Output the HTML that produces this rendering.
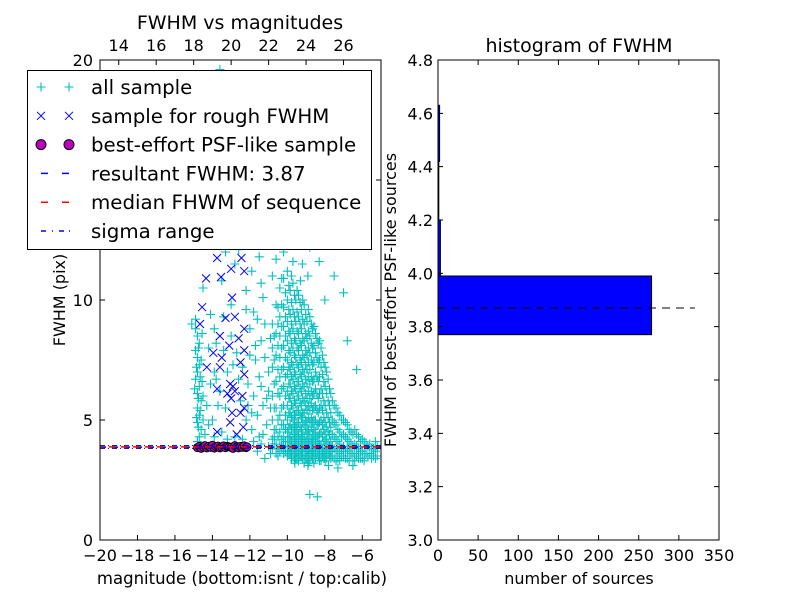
<!DOCTYPE html>
<html><head><meta charset="utf-8"><style>
body{margin:0;background:#fff}
svg{display:block;font-family:"DejaVu Sans","Liberation Sans",sans-serif}
</style></head><body>
<svg id="fig" width="800" height="600" xmlns="http://www.w3.org/2000/svg">
<rect width="800" height="600" fill="#fff"/>
<g id="left"></g>
<g id="right"></g>
</svg>
<script>
// ---- data ----
const cloudMag = [-10.8,-10.6,-10.4,-10.2,-10.0,-9.85,-9.7,-9.55,-9.4,-9.25,-9.1,-8.95,-8.8,-8.65,-8.5,-8.35,-8.2,-8.05,-7.9,-7.75,-7.6,-7.4,-7.2,-7.0,-6.8,-6.6,-6.4,-6.2,-6.0,-5.8,-5.6,-5.4,-5.2];
const cloudFwhm = [
 [9.0,8.0,7.2,6.0,5.0,4.2,3.8],
 [9.8,8.6,7.7,6.6,5.5,4.6,4.0,3.6],
 [10.5,9.3,8.5,7.6,6.8,6.0,5.2,4.5,4.0,3.7],
 [10.9,9.7,8.9,8.1,7.2,6.4,5.6,4.8,4.3,3.9,3.6],
 [11.2,10.0,9.1,8.3,7.5,6.9,6.2,5.6,5.0,4.5,4.1,3.7,3.5],
 [10.4,9.4,8.6,7.8,7.1,6.5,5.9,5.3,4.8,4.3,3.9,3.6],
 [10.7,9.6,8.8,8.0,7.3,6.7,6.1,5.5,5.0,4.6,4.2,3.8,3.5],
 [10.0,9.1,8.3,7.6,6.9,6.3,5.7,5.2,4.7,4.3,3.9,3.6,3.4],
 [10.2,9.3,8.6,7.9,7.2,6.6,6.0,5.4,4.9,4.4,4.0,3.6,3.3],
 [9.6,8.8,8.1,7.4,6.8,6.2,5.6,5.1,4.6,4.2,3.8,3.5],
 [9.8,9.0,8.3,7.6,7.0,6.4,5.8,5.3,4.8,4.3,3.9,3.5,3.2],
 [9.1,8.4,7.7,7.1,6.5,5.9,5.4,4.9,4.5,4.1,3.7,3.4],
 [9.3,8.5,7.8,7.1,6.5,5.9,5.4,4.9,4.4,4.0,3.6,3.3],
 [8.8,8.0,7.3,6.6,6.0,5.4,4.9,4.4,4.0,3.7,3.4],
 [8.6,7.8,7.0,6.3,5.6,5.0,4.5,4.1,3.7,3.4],
 [8.2,7.4,6.6,5.9,5.3,4.8,4.3,3.9,3.5],
 [8.0,7.2,6.3,5.6,5.0,4.5,4.0,3.6,3.3],
 [7.4,6.6,5.8,5.1,4.6,4.1,3.7,3.4],
 [7.0,6.1,5.3,4.7,4.2,3.8,3.4],
 [6.3,5.6,4.9,4.4,3.9,3.5],
 [5.8,5.0,4.4,3.9,3.5],
 [5.5,4.8,4.2,3.7,3.3],
 [5.2,4.5,4.0,3.6,3.3],
 [5.0,4.4,3.9,3.5],
 [4.8,4.2,3.8,3.4],
 [4.5,4.0,3.6],
 [4.6,4.0,3.6,3.3],
 [4.3,3.8,3.4],
 [4.2,3.7,3.4],
 [4.0,3.6],
 [4.0,3.6],
 [3.8,3.5],
 [3.9,3.5]
];
const cloudMag2 = [-10.7,-10.5,-10.3,-10.1,-9.92,-9.78,-9.62,-9.48,-9.32,-9.18,-9.02,-8.88,-8.72,-8.58,-8.42,-8.28,-8.12,-7.98,-7.82,-7.68,-7.5,-7.3,-7.1,-6.9,-6.7,-6.5,-6.3,-6.1,-5.9,-5.7,-5.5,-5.3];
const cloudFwhm2 = [
 [8.5,7.5,6.5,5.5,4.6,4.0],
 [9.0,8.1,7.1,6.1,5.0,4.3,3.8],
 [9.8,8.9,8.0,7.1,6.3,5.5,4.8,4.2,3.8],
 [10.3,9.3,8.5,7.6,6.8,6.0,5.2,4.6,4.1,3.7],
 [10.6,9.6,8.7,7.9,7.2,6.5,5.9,5.3,4.7,4.3,3.9,3.6],
 [11.0,9.9,9.0,8.2,7.4,6.8,6.2,5.6,5.1,4.6,4.1,3.7,3.4],
 [10.2,9.3,8.4,7.7,7.0,6.4,5.8,5.2,4.8,4.4,4.0,3.6,3.3],
 [10.4,9.5,8.7,8.0,7.3,6.6,6.0,5.4,4.9,4.5,4.1,3.7,3.4],
 [9.9,9.0,8.2,7.5,6.9,6.3,5.7,5.2,4.7,4.2,3.8,3.5],
 [10.0,9.2,8.4,7.7,7.1,6.5,5.9,5.3,4.9,4.4,4.0,3.7,3.4],
 [9.4,8.6,7.9,7.3,6.7,6.1,5.6,5.0,4.6,4.1,3.7,3.4],
 [9.6,8.7,8.0,7.4,6.8,6.2,5.6,5.1,4.6,4.2,3.8,3.5,3.2],
 [9.0,8.2,7.5,6.8,6.2,5.7,5.1,4.7,4.2,3.8,3.5],
 [8.9,8.1,7.4,6.7,6.1,5.5,5.0,4.6,4.2,3.8,3.5,3.2],
 [8.4,7.6,6.8,6.1,5.4,4.8,4.3,3.9,3.6],
 [8.3,7.5,6.8,6.1,5.5,4.9,4.4,4.0,3.6,3.3],
 [7.7,6.9,6.1,5.4,4.8,4.3,3.8,3.5],
 [7.2,6.4,5.6,4.9,4.4,4.0,3.6,3.3],
 [6.7,5.8,5.1,4.5,4.0,3.6],
 [6.1,5.3,4.7,4.1,3.7,3.4],
 [5.6,4.9,4.3,3.8,3.4],
 [5.3,4.6,4.1,3.7,3.4],
 [5.0,4.3,3.8,3.5],
 [4.9,4.3,3.7,3.4],
 [4.6,4.1,3.7,3.3],
 [4.4,3.9,3.5],
 [4.4,3.9,3.5],
 [4.1,3.7,3.4],
 [4.1,3.6,3.3],
 [3.9,3.5],
 [3.8,3.4],
 [3.7,3.4]
];
const extraPts = [
 [-14.9,8.8],[-14.8,8.5],[-14.7,8.2],[-14.9,7.9],[-14.8,7.6],[-14.7,7.3],[-14.8,7.0],[-14.9,6.7],[-14.7,6.4],[-14.8,6.1],[-14.6,5.8],[-14.8,5.5],[-14.7,5.2],[-14.8,4.9],[-14.6,4.6],[-14.7,4.3],[-14.8,4.1],[-14.5,5.0],[-14.5,6.0],[-14.6,7.5],[-14.9,9.2],[-15.1,9.0],[-14.4,4.4],[-14.6,3.9],
 [-14.75,8.0],[-14.85,7.2],[-14.65,6.8],[-14.75,5.9],[-14.65,5.4],[-14.75,4.7],[-14.55,8.6],[-14.95,6.3],[-14.55,6.6],[-14.85,5.1],
 [-14.3,15.5],[-13.8,14.8],[-12.5,16.3],[-11.7,15.2],[-13.2,13.6],[-12.0,12.8],[-11.0,14.5],[-10.5,13.2],[-14.0,12.3],[-12.8,11.5],[-11.5,11.8],[-10.2,12.0],[-13.5,10.8],[-12.2,10.4],[-11.3,10.1],[-10.8,11.0],[-14.5,10.5],[-13.0,9.8],[-11.8,9.5],[-10.5,9.7],[-9.8,13.8],[-9.5,12.5],[-9.2,11.5],[-8.8,12.2],[-9.0,16.0],[-10.0,15.8],[-11.2,17.0],[-12.4,18.0],[-8.5,14.0],[-7.5,11.0],[-7.0,10.3],[-8.0,10.0],[-6.8,8.3],[-6.3,7.1],[-13.6,19.6],
 [-11.9,11.2],[-11.4,10.7],[-10.9,12.3],[-10.3,10.9],[-9.7,11.6],[-9.3,10.8],[-8.9,11.0],[-8.3,11.6],[-12.6,12.1],[-13.3,12.0],[-10.6,11.7],
 [-14.2,8.0],[-13.9,7.0],[-13.6,6.2],[-13.3,5.5],[-14.0,5.0],[-13.5,4.5],[-13.0,8.5],[-12.7,7.8],[-12.4,7.2],[-12.1,6.5],[-12.5,5.8],[-12.2,5.0],[-11.9,4.6],[-12.0,8.8],[-11.7,7.5],[-11.5,6.8],[-11.3,5.6],[-11.1,4.8],[-11.6,9.2],
 [-13.9,8.8],[-13.4,9.3],[-13.7,5.6],[-14.1,6.5],[-12.0,7.7],[-11.8,6.0],[-11.6,5.2],[-11.4,8.3],[-11.2,9.0],[-11.0,7.0],[-11.0,6.2],[-10.9,5.5],[-11.3,4.4],
 [-14.1,9.4],[-13.8,8.2],[-13.4,7.9],[-13.2,7.0],[-13.8,6.7],[-14.3,5.6],[-14.2,4.8],[-13.9,4.3],[-12.9,7.3],[-12.6,6.7],[-12.2,9.6],[-12.1,5.6],[-11.9,5.3],[-11.7,8.1],[-11.5,4.3],[-11.4,6.4],[-11.2,7.6],[-11.1,5.9],[-10.9,8.4],[-12.8,4.3],[-12.4,4.2],[-13.2,4.2],
 [-11.8,4.1],[-11.4,4.0],[-11.0,3.9],[-10.7,4.3],[-8.8,1.9],[-8.4,1.8],[-11.2,3.4],[-5.3,4.1],[-9.6,3.2],[-8.9,3.1],[-11.6,3.7],[-10.9,3.6],[-10.5,3.5],[-7.8,3.1],[-7.3,3.0],[-6.5,3.1]
];
const roughPts = [
 [-14.34,10.9],[-13.54,10.96],[-12.3,11.2],[-12.95,10.1],[-14.55,9.7],[-14.66,9.0],[-13.3,9.25],[-12.8,9.3],[-12.3,8.8],[-13.6,8.5],[-12.6,8.4],[-13.1,8.1],[-13.95,7.8],[-13.5,7.6],[-12.3,7.9],[-14.3,7.2],[-13.6,7.2],[-12.5,7.4],[-12.3,6.9],[-13.75,6.3],[-13.05,6.5],[-12.8,6.2],[-12.4,6.0],[-12.95,5.3],[-12.5,5.3],[-12.3,5.5],[-13.05,4.9],[-13.75,4.5],[-12.35,4.7],[-12.7,4.4],
 [-14.35,12.3],[-13.0,11.3],[-12.45,11.75],[-13.75,11.75],[-13.2,6.1],[-13.0,5.9],[-12.9,6.4]
];
const bestMag = [-14.8,-14.7,-14.6,-14.5,-14.4,-14.3,-14.2,-14.1,-14.0,-13.9,-13.8,-13.7,-13.6,-13.5,-13.4,-13.3,-13.2,-13.1,-13.0,-12.9,-12.8,-12.7,-12.6,-12.5,-12.4,-12.3,-12.2,-12.15];
const bestFwhm = [3.85,3.9,3.82,3.88,3.93,3.84,3.9,3.86,3.95,3.83,3.89,3.91,3.84,3.87,3.92,3.85,3.9,3.88,3.86,3.82,3.93,3.87,3.84,3.9,3.86,3.92,3.85,3.88];
const resultFwhm = 3.87, medianFwhm = 3.88, sigmaLo = 3.82, sigmaHi = 3.93;
const histEdges = [3.77,3.99,4.20,4.42,4.63];
const histCounts = [266,3,1,2];
const bottomTicks = [-20,-18,-16,-14,-12,-10,-8,-6];
const topTicks = [14,16,18,20,22,24,26];
const leftYTicks = [0,5,10,15,20];
const histYTicks = [3.0,3.2,3.4,3.6,3.8,4.0,4.2,4.4,4.6,4.8];
const histXTicks = [0,50,100,150,200,250,300,350];

// ---- helpers ----
const NS="http://www.w3.org/2000/svg";
function mk(parent,tag,attrs,text){const e=document.createElementNS(NS,tag);for(const k in attrs)e.setAttribute(k,attrs[k]);if(text!==undefined)e.textContent=text;parent.appendChild(e);return e;}
const L=document.getElementById('left'), R=document.getElementById('right');
const lx0=100,lx1=381,ly0=60,ly1=540;
const xL=m=>lx0+(m+20)/15*(lx1-lx0);
const xT=c=>lx0+(c-13)/15*(lx1-lx0);
const yL=f=>ly1-f/20*(ly1-ly0);
const cp=mk(L,'clipPath',{id:'lc'});mk(cp,'rect',{x:lx0,y:ly0,width:lx1-lx0,height:ly1-ly0});
const pg=mk(L,'g',{'clip-path':'url(#lc)'});


function plus(g,x,y){mk(g,'path',{d:`M${x-4.5} ${y}H${x+4.5}M${x} ${y-4.5}V${y+4.5}`,stroke:'#00bfbf','stroke-width':1.1,fill:'none'});}
function cross(g,x,y){mk(g,'path',{d:`M${x-4} ${y-4}L${x+4} ${y+4}M${x-4} ${y+4}L${x+4} ${y-4}`,stroke:'#0000ff','stroke-width':1,fill:'none'});}
const gAll=mk(pg,'g',{});


cloudMag.forEach((m,i)=>cloudFwhm[i].forEach(f=>plus(gAll,xL(m),yL(f))));
cloudMag2.forEach((m,i)=>cloudFwhm2[i].forEach(f=>plus(gAll,xL(m),yL(f))));
extraPts.forEach(p=>plus(gAll,xL(p[0]),yL(p[1])));
const gR=mk(pg,'g',{});


roughPts.forEach(p=>cross(gR,xL(p[0]),yL(p[1])));
const gB=mk(pg,'g',{});


bestMag.forEach((m,i)=>mk(gB,'circle',{cx:xL(m),cy:yL(bestFwhm[i]),r:4,fill:'#bf00bf',stroke:'#000','stroke-width':1}));
const lr=mk(pg,'line',{x1:lx0,x2:lx1,y1:yL(resultFwhm),y2:yL(resultFwhm),stroke:'#0000ff','stroke-width':1.5,'stroke-dasharray':'6 6'});


const lm=mk(pg,'line',{x1:lx0,x2:lx1,y1:yL(medianFwhm),y2:yL(medianFwhm),stroke:'#ff0000','stroke-width':1.5,'stroke-dasharray':'6 6','stroke-dashoffset':3});


[sigmaLo,sigmaHi].forEach(v=>{const s=mk(pg,'line',{x1:lx0,x2:lx1,y1:yL(v),y2:yL(v),stroke:'#00008b','stroke-width':1,'stroke-dasharray':'5 3 1 3'});

});
mk(L,'rect',{x:lx0,y:ly0,width:lx1-lx0,height:ly1-ly0,fill:'none',stroke:'#000','stroke-width':1});
bottomTicks.forEach(t=>{const x=xL(t);mk(L,'path',{d:`M${x} ${ly1}v-5`,stroke:'#000'});
const tl=mk(L,'text',{x:x,y:ly1+21,'text-anchor':'middle','font-size':16},'\u2212'+Math.abs(t));

});
topTicks.forEach(t=>{const x=xT(t);mk(L,'path',{d:`M${x} ${ly0}v5`,stroke:'#000'});
const tl=mk(L,'text',{x:x,y:ly0-9,'text-anchor':'middle','font-size':16},t);

});
leftYTicks.forEach(t=>{const y=yL(t);mk(L,'path',{d:`M${lx0} ${y}h5M${lx1} ${y}h-5`,stroke:'#000'});
const tl=mk(L,'text',{x:lx0-7,y:y+6,'text-anchor':'end','font-size':16},t);

});
const t1=mk(L,'text',{x:240,y:29,'text-anchor':'middle','font-size':19},'FWHM vs magnitudes');


const xl1=mk(L,'text',{x:242,y:584,'text-anchor':'middle','font-size':16.5},'magnitude (bottom:isnt / top:calib)');


const yl1=mk(L,'text',{x:0,y:0,'text-anchor':'middle','font-size':16,transform:'translate(65 300) rotate(-90)'},'FWHM (pix)');


// legend
const lg=mk(L,'g',{});


mk(lg,'rect',{x:27.5,y:70.5,width:344,height:179,fill:'#fff',stroke:'#000','stroke-width':1});
const labels=['all sample','sample for rough FWHM','best-effort PSF-like sample','resultant FWHM: 3.87','median FHWM of sequence','sigma range'];
labels.forEach((s,i)=>{const y=87+i*28.8;
const e=mk(lg,'g',{});


if(i==0){plus(e,41,y);plus(e,69,y);}
if(i==1){cross(e,41,y);cross(e,69,y);}
if(i==2){[41,69].forEach(x=>mk(e,'circle',{cx:x,cy:y,r:5,fill:'#bf00bf',stroke:'#000'}));}
if(i==3)mk(e,'path',{d:`M41 ${y}h7M62 ${y}h7`,stroke:'#0000ff','stroke-width':1.5});
if(i==4)mk(e,'path',{d:`M41 ${y}h7M62 ${y}h7`,stroke:'#ff0000','stroke-width':1.5});
if(i==5)mk(e,'path',{d:`M41 ${y}h5M52 ${y}h1M59 ${y}h5M69 ${y}h1`,stroke:'#0000ff','stroke-width':1.5});
mk(e,'text',{x:91,y:y+7,'font-size':19.8},s);});
// right histogram
const rx0=438,rx1=719;
const xH=c=>rx0+c/350*(rx1-rx0);
const yH=f=>ly1-(f-3.0)/1.8*(ly1-ly0);
histCounts.forEach((c,i)=>{const b=mk(R,'rect',{x:xH(0),y:yH(histEdges[i+1]),width:xH(c)-xH(0),height:yH(histEdges[i])-yH(histEdges[i+1]),fill:'#0000ff',stroke:'#000','stroke-width':1});

});
const hl=mk(R,'line',{x1:xH(0),x2:xH(320),y1:yH(resultFwhm),y2:yH(resultFwhm),stroke:'#000','stroke-width':1,'stroke-dasharray':'8 6'});


mk(R,'rect',{x:rx0,y:ly0,width:rx1-rx0,height:ly1-ly0,fill:'none',stroke:'#000'});
histXTicks.forEach(t=>{const x=xH(t);mk(R,'path',{d:`M${x} ${ly1}v-5M${x} ${ly0}v5`,stroke:'#000'});
const tl=mk(R,'text',{x:x,y:ly1+21,'text-anchor':'middle','font-size':16},t);

});
histYTicks.forEach(t=>{const y=yH(t);mk(R,'path',{d:`M${rx0} ${y}h5M${rx1} ${y}h-5`,stroke:'#000'});
const tl=mk(R,'text',{x:rx0-5,y:y+6,'text-anchor':'end','font-size':16},t.toFixed(1));

});
const t2=mk(R,'text',{x:579,y:52,'text-anchor':'middle','font-size':19},'histogram of FWHM');


const xl2=mk(R,'text',{x:579,y:584,'text-anchor':'middle','font-size':16},'number of sources');


const yl2=mk(R,'text',{x:0,y:0,'text-anchor':'middle','font-size':16,transform:'translate(396 300) rotate(-90)'},'FWHM of best-effort PSF-like sources');


</script>
</body></html>
